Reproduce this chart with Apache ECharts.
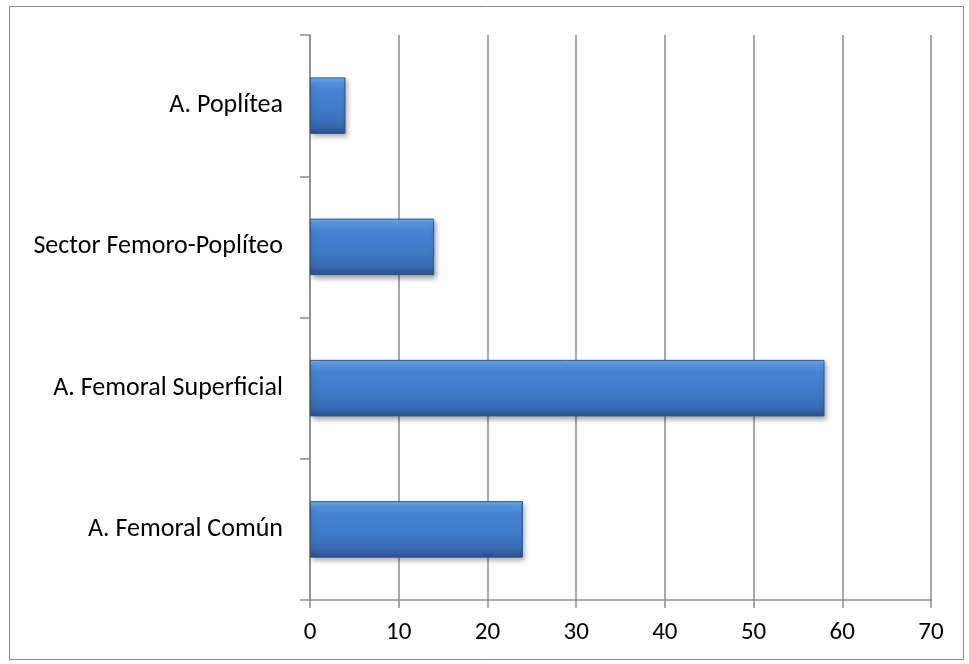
<!DOCTYPE html>
<html>
<head>
<meta charset="utf-8">
<script src="https://cdn.jsdelivr.net/npm/echarts@6/dist/echarts.min.js"></script>
<style>
  html, body { margin: 0; padding: 0; background: #fff; }
  #chart { width: 969px; height: 664px; }
</style>
</head>
<body>
<div id="chart"></div>
<script>
// Arterial segments (bottom to top) and their counts
const categories = ['A. Femoral Común', 'A. Femoral Superficial', 'Sector Femoro-Poplíteo', 'A. Poplítea'];
const values = [24, 58, 14, 4];
const axisMin = 0;
const axisMax = 70;
const axisStep = 10;

const font = 'Carlito, Calibri, "Open Sans", "Liberation Sans", sans-serif';
const gridColor = '#8c8c8c';

const barFill = new echarts.graphic.LinearGradient(0, 0, 0, 1, [
  { offset: 0.0, color: '#74b0f0' },
  { offset: 0.1, color: '#5596e2' },
  { offset: 0.22, color: '#4484d2' },
  { offset: 0.6, color: '#3e7bc6' },
  { offset: 0.86, color: '#3769b0' },
  { offset: 1.0, color: '#2b5088' }
]);

const chart = echarts.init(document.getElementById('chart'), null, { renderer: 'canvas' });

chart.setOption({
  backgroundColor: '#ffffff',
  animation: false,
  graphic: [{
    type: 'rect',
    shape: { x: 9.5, y: 6.5, width: 954, height: 653 },
    style: { fill: 'none', stroke: '#8a8a8a', lineWidth: 1 },
    z: -1
  }],
  grid: { left: 310, right: 38, top: 35, bottom: 64, containLabel: false },
  xAxis: {
    type: 'value',
    min: axisMin,
    max: axisMax,
    interval: axisStep,
    axisLine: { show: true, lineStyle: { color: gridColor, width: 1.5 } },
    axisTick: { show: true, length: 8, lineStyle: { color: gridColor, width: 1.5 } },
    splitLine: { show: true, lineStyle: { color: gridColor, width: 1.5 } },
    axisLabel: { color: '#000', fontFamily: font, fontSize: 25, margin: 20 }
  },
  yAxis: {
    type: 'category',
    data: categories,
    axisLine: { show: true, lineStyle: { color: gridColor, width: 1.5 } },
    axisTick: { show: true, length: 10, alignWithLabel: false, lineStyle: { color: gridColor, width: 1.5 } },
    axisLabel: { color: '#000', fontFamily: font, fontSize: 26, margin: 27 }
  },
  series: [{
    type: 'bar',
    data: values,
    barWidth: '40%',
    itemStyle: {
      color: barFill,
      borderColor: '#2a558f',
      borderWidth: 1,
      shadowColor: 'rgba(0,0,0,0.35)',
      shadowBlur: 5,
      shadowOffsetX: 2,
      shadowOffsetY: 3
    }
  }]
});
</script>
</body>
</html>
